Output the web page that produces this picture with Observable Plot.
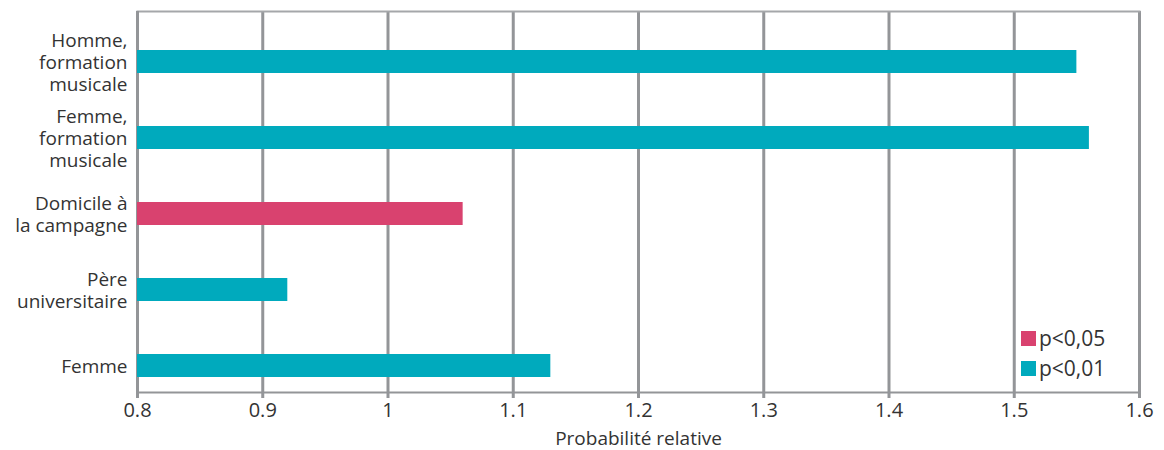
<!DOCTYPE html>
<html>
<head>
<meta charset="utf-8">
<script src="https://cdn.jsdelivr.net/npm/d3@7"></script>
<script src="https://cdn.jsdelivr.net/npm/@observablehq/plot@0.6"></script>
<style>
  html, body { margin: 0; padding: 0; background: #fff; }
  #wrap { position: relative; width: 1164px; height: 450px; font-family: "Open Sans", "Noto Sans", sans-serif; }
  #legend { position: absolute; left: 1021px; top: 324px; font-size: 21px; color: #333; line-height: 29.5px; }
  #legend .item { display: flex; align-items: center; }
  #legend .sw { width: 15px; height: 15px; margin-right: 3px; display: inline-block; }
</style>
</head>
<body>
<div id="wrap"></div>
<script>
const categories = ["Homme,\nformation\nmusicale", "Femme,\nformation\nmusicale", "Domicile à\nla campagne", "Père\nuniversitaire", "Femme"];
const values = [1.55, 1.56, 1.06, 0.92, 1.13];
const significance = ["p<0,01", "p<0,01", "p<0,05", "p<0,01", "p<0,01"];
const legendLabels = ["p<0,05", "p<0,01"];
const legendColors = ["#d9426f", "#00aabd"];
const xTicks = [0.8, 0.9, 1, 1.1, 1.2, 1.3, 1.4, 1.5, 1.6];
const xTitle = "Probabilité relative";

const data = categories.map((c, i) => ({cat: c, value: values[i], sig: significance[i]}));
const gridColor = "#939598";

const chart = Plot.plot({
  width: 1164,
  height: 450,
  marginLeft: 137,
  marginRight: 25,
  marginTop: 11,
  marginBottom: 58,
  style: {fontFamily: "'Open Sans', 'Noto Sans', sans-serif", color: "#333", background: "#fff"},
  x: {domain: [0.8, 1.6], label: null},
  y: {domain: categories, range: [22.4, 403.6], paddingInner: 0.7, paddingOuter: 0.35, label: null},
  color: {domain: legendLabels, range: legendColors},
  marks: [
    Plot.gridX(xTicks, {stroke: gridColor, strokeOpacity: 1, strokeWidth: 3}),
    Plot.frame({anchor: "top", stroke: "#a5a7aa", strokeWidth: 2}),
    Plot.frame({anchor: "bottom", stroke: gridColor, strokeWidth: 2}),
    Plot.ruleX([0.8], {stroke: gridColor, strokeWidth: 3, insetBottom: -5}),
    Plot.barX(data, {x1: 0.8, x2: "value", y: "cat", fill: "sig"}),
    Plot.axisX({ticks: xTicks, tickFormat: d => String(d), tickSize: 6, stroke: gridColor, strokeWidth: 3, tickPadding: 4, fontSize: 20, fill: "#333", label: null}),
    Plot.text([xTitle], {frameAnchor: "bottom", lineAnchor: "middle", dy: 46, fontSize: 19, fill: "#333"}),
    Plot.axisY({tickSize: 0, tickPadding: 10, fontSize: 19, fill: "#333", lineHeight: 1.15, label: null})
  ]
});
const wrap = document.getElementById("wrap");
wrap.appendChild(chart);

const legend = document.createElement("div");
legend.id = "legend";
legendLabels.forEach((l, i) => {
  const item = document.createElement("div");
  item.className = "item";
  const sw = document.createElement("span");
  sw.className = "sw";
  sw.style.background = legendColors[i];
  item.appendChild(sw);
  item.appendChild(document.createTextNode(l));
  legend.appendChild(item);
});
wrap.appendChild(legend);
</script>
</body>
</html>
